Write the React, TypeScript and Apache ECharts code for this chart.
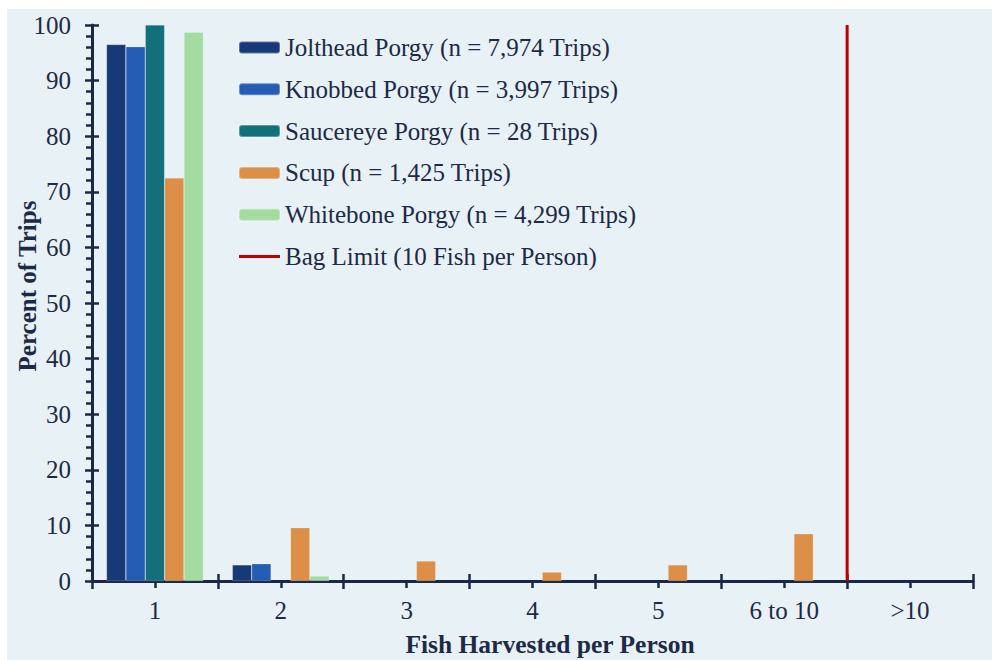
import React, { useEffect, useRef } from "react";
import * as echarts from "echarts";

const CATEGORIES = ["1", "2", "3", "4", "5", "6 to 10", ">10"];
const SERIES_NAMES = [
  "Jolthead Porgy (n = 7,974 Trips)",
  "Knobbed Porgy (n = 3,997 Trips)",
  "Saucereye Porgy (n = 28 Trips)",
  "Scup (n = 1,425 Trips)",
  "Whitebone Porgy (n = 4,299 Trips)",
];
const JOLTHEAD = [96.5, 2.9, 0, 0, 0, 0, 0];
const KNOBBED = [96.1, 3.1, 0, 0, 0, 0, 0];
const SAUCEREYE = [100, 0, 0, 0, 0, 0, 0];
const SCUP = [72.5, 9.6, 3.6, 1.6, 2.9, 8.5, 0];
const WHITEBONE = [98.7, 0.9, 0, 0, 0, 0, 0];
const SERIES_VALUES = [JOLTHEAD, KNOBBED, SAUCEREYE, SCUP, WHITEBONE];
const COLORS = ["#163a78", "#255cb4", "#13707a", "#de8f47", "#a2dca0"];
const BAG_LIMIT_NAME = "Bag Limit (10 Fish per Person)";
const BAG_LIMIT_POSITION = 6; // boundary between "6 to 10" and ">10"
const Y_MIN = 0;
const Y_MAX = 100;
const Y_INTERVAL = 10;
const Y_TITLE = "Percent of Trips";
const X_TITLE = "Fish Harvested per Person";

const FONT = "Liberation Serif";
const INK = "#1c2a45";
const AXIS = "#1b2845";
const FS = 25;

export default function App() {
  const ref = useRef<HTMLDivElement>(null);

  useEffect(() => {
    if (!ref.current) return;
    const chart = echarts.init(ref.current, undefined, { renderer: "svg" });

    const barSeries = SERIES_NAMES.map((name, i) => ({
      name,
      type: "bar",
      xAxisIndex: 0,
      yAxisIndex: 0,
      data: SERIES_VALUES[i].map((v) => (v === 0 ? "-" : v)),
      barGap: "0%",
      barCategoryGap: "23%",
      itemStyle: { color: COLORS[i], borderColor: "rgba(255,255,255,0.3)", borderWidth: 0.6 },
    }));

    const option = {
      animation: false,
      backgroundColor: "#e8f1f5",
      grid: { left: 85, right: 19, top: 16, bottom: 79, containLabel: false },
      legend: {
        orient: "vertical",
        left: 231,
        top: 26,
        padding: 0,
        itemWidth: 41,
        itemHeight: 12,
        itemGap: 16.8,
        textStyle: { fontFamily: FONT, fontSize: FS, color: INK },
        data: [
          ...SERIES_NAMES,
          { name: BAG_LIMIT_NAME, icon: "path://M0,0 L41,0 L41,3 L0,3 Z", itemStyle: { color: "#c00000" } },
        ],
      },
      xAxis: [
        {
          type: "category",
          data: CATEGORIES,
          axisLine: { show: true, lineStyle: { color: AXIS, width: 3 } },
          axisTick: { show: true, interval: 0, alignWithLabel: true, inside: false, length: 7, lineStyle: { color: AXIS, width: 2.5 } },
          axisLabel: { interval: 0, fontFamily: FONT, fontSize: FS, color: INK, margin: 17 },
          splitLine: { show: false },
        },
        {
          type: "value",
          min: 0,
          max: CATEGORIES.length,
          interval: 1,
          position: "bottom",
          axisLine: { show: false },
          axisTick: { show: true, inside: false, length: 8, lineStyle: { color: AXIS, width: 2.5 } },
          axisLabel: { show: false },
          splitLine: { show: false },
        },
        {
          type: "value",
          min: 0,
          max: CATEGORIES.length,
          interval: 1,
          position: "bottom",
          axisLine: { show: false },
          axisTick: { show: true, inside: true, length: 7, lineStyle: { color: AXIS, width: 2.5 } },
          axisLabel: { show: false },
          splitLine: { show: false },
        },
      ],
      yAxis: [
        {
          type: "value",
          min: Y_MIN,
          max: Y_MAX,
          interval: Y_INTERVAL,
          axisLine: { show: true, lineStyle: { color: AXIS, width: 3 } },
          axisTick: { show: true, inside: false, length: 7, lineStyle: { color: AXIS, width: 2.5 } },
          minorTick: { show: true, splitNumber: 5, length: 6, lineStyle: { color: AXIS, width: 2.5 } },
          axisLabel: { fontFamily: FONT, fontSize: FS, color: INK, margin: 21 },
          splitLine: { show: false },
        },
        {
          type: "value",
          min: Y_MIN,
          max: Y_MAX,
          interval: Y_INTERVAL,
          position: "left",
          axisLine: { show: false },
          axisTick: { show: true, inside: true, length: 7, lineStyle: { color: AXIS, width: 2.5 } },
          axisLabel: { show: false },
          splitLine: { show: false },
        },
      ],
      series: [
        ...barSeries,
        {
          name: BAG_LIMIT_NAME,
          type: "line",
          xAxisIndex: 1,
          yAxisIndex: 0,
          data: [
            [BAG_LIMIT_POSITION, Y_MIN],
            [BAG_LIMIT_POSITION, Y_MAX],
          ],
          symbol: "none",
          lineStyle: { color: "#c00000", width: 3 },
          itemStyle: { color: "#c00000" },
          z: 5,
        },
      ],
      graphic: [
        {
          type: "text",
          x: 20,
          y: 277,
          rotation: Math.PI / 2,
          style: { text: Y_TITLE, fontFamily: FONT, fontSize: FS, fontWeight: "bold", fill: INK, textAlign: "center", textVerticalAlign: "middle" },
        },
        {
          type: "text",
          x: 543,
          y: 635,
          style: { text: X_TITLE, fontFamily: FONT, fontSize: 25.5, fontWeight: "bold", fill: INK, textAlign: "center", textVerticalAlign: "middle" },
        },
      ],
    };

    chart.setOption(option as any);
    return () => chart.dispose();
  }, []);

  return <div ref={ref} style={{ position: "fixed", left: 7, top: 9, width: 985, height: 651 }} />;
}
